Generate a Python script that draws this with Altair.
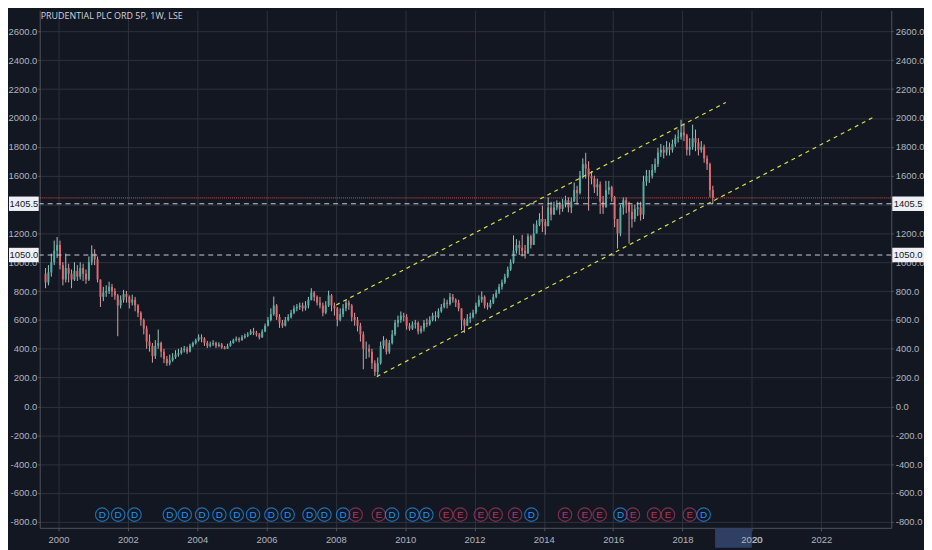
import altair as alt
import pandas as pd

# ---------------- data ----------------
TITLE = "PRUDENTIAL PLC ORD 5P, 1W, LSE"
START_YEAR = 1999
START_MONTH = 8
FIRST_OPEN = 920

closes = [
    860, 930, 1000, 1080, 1120,
    980, 880, 960, 920, 880, 940, 900, 960, 920, 880, 1000, 1060,
    1020, 880, 760, 790, 800, 830, 800, 770, 700, 740, 780, 760,
    720, 740, 700, 650, 600, 540, 450, 420, 350, 420, 440, 380,
    330, 300, 320, 340, 360, 370, 390, 400, 380, 420, 440, 460,
    480, 470, 440, 420, 430, 440, 420, 430, 410, 400, 420, 440,
    460, 470, 460, 480, 490, 500, 520, 510, 500, 480, 520, 560,
    600, 640, 700, 620, 580, 560, 600, 620, 650, 680, 690, 700,
    680, 700, 740, 790, 760, 720, 700, 650, 700, 770, 700, 680,
    600, 640, 680, 720, 700, 620, 600, 560, 500, 400, 400, 380,
    300, 240, 300, 420, 460, 380, 440, 500, 580, 600, 630, 620,
    560, 540, 570, 580, 520, 540, 580, 570, 600, 630, 620, 660,
    690, 720, 710, 760, 740, 720, 680, 600, 560, 610, 620, 650,
    700, 740, 760, 700, 690, 720, 760, 790, 830, 860, 900, 950,
    1000, 1080, 1120, 1100, 1080, 1060, 1180, 1120, 1200, 1260, 1300, 1280,
    1250, 1380, 1330, 1380, 1400, 1370, 1400, 1430, 1380, 1420, 1500, 1480,
    1600, 1680, 1650, 1600, 1580, 1520, 1540, 1420, 1380, 1500, 1520, 1450,
    1300, 1200, 1380, 1430, 1400, 1350, 1300, 1370, 1380, 1330, 1560, 1600,
    1600, 1640, 1680, 1760, 1780, 1760, 1800, 1780, 1820, 1860, 1870, 1900,
    1880, 1780, 1800, 1860, 1830, 1780, 1800, 1720, 1680, 1500, 1446,
]
highs = [
    960, 980, 1060, 1150, 1175,
    1150, 1000, 1060, 990, 950, 1000, 980, 1000, 990, 950, 1040, 1117,
    1090, 1040, 880, 830, 840, 865, 850, 820, 780, 770, 808, 800,
    770, 775, 760, 710, 660, 610, 560, 500, 440, 460, 533, 450,
    400, 350, 360, 370, 390, 400, 410, 420, 415, 435, 450, 470,
    500, 500, 480, 455, 450, 460, 450, 445, 440, 420, 435, 455,
    470, 485, 480, 495, 505, 515, 535, 545, 525, 510, 535, 575,
    620, 680, 762, 710, 640, 600, 620, 640, 670, 700, 710, 720,
    720, 730, 760, 820, 800, 770, 760, 720, 730, 803, 780, 720,
    690, 680, 710, 740, 735, 710, 650, 620, 580, 520, 450, 430,
    400, 320, 340, 450, 487, 470, 460, 530, 600, 630, 659, 650,
    640, 580, 590, 600, 590, 560, 600, 610, 625, 650, 660, 680,
    710, 750, 740, 786, 780, 750, 740, 680, 610, 640, 650, 671,
    720, 770, 797, 770, 720, 740, 780, 810, 850, 880, 920, 970,
    1020, 1186, 1160, 1150, 1190, 1120, 1198, 1190, 1267, 1290, 1340, 1392,
    1300, 1450, 1420, 1420, 1430, 1420, 1440, 1461, 1450, 1450, 1553, 1530,
    1633, 1720, 1759, 1700, 1633, 1600, 1580, 1560, 1460, 1564, 1564, 1530,
    1460, 1300, 1400, 1450, 1450, 1420, 1400, 1400, 1420, 1420, 1600, 1640,
    1640, 1680, 1720, 1793, 1820, 1810, 1840, 1830, 1850, 1885, 1920, 1988,
    1960, 1890, 1860, 1954, 1920, 1860, 1840, 1816, 1740, 1690, 1530,
]
lows = [
    820, 840, 900, 980, 1030,
    950, 840, 860, 860, 820, 870, 870, 880, 870, 850, 870, 980,
    980, 860, 690, 730, 760, 780, 760, 740, 487, 680, 720, 720,
    680, 700, 660, 620, 560, 500, 400, 380, 304, 330, 400, 340,
    300, 281, 285, 310, 330, 345, 360, 375, 365, 375, 410, 430,
    450, 445, 420, 405, 410, 420, 405, 410, 400, 396, 400, 415,
    435, 450, 445, 455, 470, 480, 495, 495, 485, 465, 475, 515,
    555, 590, 630, 600, 545, 545, 555, 590, 610, 640, 660, 670,
    659, 665, 680, 735, 730, 700, 680, 625, 640, 690, 660, 630,
    556, 590, 620, 660, 670, 590, 560, 520, 450, 258, 330, 340,
    260, 212, 215, 290, 400, 361, 365, 430, 490, 550, 580, 590,
    533, 525, 530, 540, 500, 505, 520, 550, 560, 590, 590, 610,
    650, 680, 680, 700, 720, 690, 660, 530, 510, 560, 580, 610,
    640, 690, 720, 680, 671, 680, 710, 750, 780, 810, 850, 890,
    940, 990, 1060, 1050, 1040, 1026, 1080, 1095, 1140, 1200, 1250, 1209,
    1190, 1250, 1290, 1340, 1360, 1330, 1350, 1380, 1346, 1340, 1420, 1400,
    1470, 1580, 1580, 1358, 1540, 1480, 1460, 1335, 1335, 1380, 1470, 1420,
    1243, 1095, 1180, 1330, 1340, 1129, 1240, 1280, 1320, 1289, 1300, 1530,
    1550, 1580, 1620, 1660, 1730, 1720, 1740, 1740, 1760, 1800, 1830, 1850,
    1840, 1740, 1740, 1780, 1770, 1740, 1760, 1690, 1640, 1450, 1404,
]

year_ticks = list(range(2000, 2023, 2))
price_ticks = list(range(-800, 2601, 200))

level_prices = [1405.5, 1050.0]
level_labels = ["1405.5", "1050.0"]
last_price = [1446]

upper_t = [2008.01, 2019.25]
upper_p = [704, 2108]
lower_t = [2009.18, 2023.49]
lower_p = [207, 2003]

event_t = [2001.26, 2001.72, 2002.19, 2003.21, 2003.64, 2004.14, 2004.64, 2005.14,
           2005.61, 2006.14, 2006.61, 2007.24, 2007.67, 2008.21, 2008.57, 2009.24,
           2009.62, 2010.21, 2010.61, 2011.18, 2011.59, 2012.18, 2012.61, 2013.17,
           2013.64, 2014.61, 2015.18, 2015.61, 2016.21, 2016.57, 2017.18, 2017.58,
           2018.21, 2018.61]
event_kind = ["D", "D", "D", "D", "D", "D", "D", "D",
              "D", "D", "D", "D", "D", "D", "E", "E",
              "D", "D", "D", "E", "E", "E", "E", "E",
              "D", "E", "E", "E", "D", "E", "E", "E",
              "E", "D"]

highlight_t = [2018.94, 2020.0]
highlight_label = ["2020"]

# ---------------- tables ----------------
rows = []
prev = FIRST_OPEN
for i, (c, h, l) in enumerate(zip(closes, highs, lows)):
    m = START_MONTH - 1 + i
    t = START_YEAR + m // 12 + ((m % 12) + 0.5) / 12
    o = prev
    rows.append(dict(t=t, open=o, close=c, high=max(h, o, c), low=min(l, o, c)))
    prev = c
candles = pd.DataFrame(rows)

levels = pd.DataFrame({"price": level_prices, "label": level_labels})
lastp = pd.DataFrame({"price": last_price})
channel = pd.DataFrame({
    "line": ["upper"] * len(upper_t) + ["lower"] * len(lower_t),
    "t": upper_t + lower_t,
    "p": upper_p + lower_p,
})
events = pd.DataFrame({"t": event_t, "kind": event_kind})
hl = pd.DataFrame({"t0": [highlight_t[0]], "t1": [highlight_t[1]]})
hl_lab = pd.DataFrame({"t": [2020.0], "label": highlight_label})
title_df = pd.DataFrame({"label": [TITLE]})

# ---------------- style ----------------
BG = "#131722"
GRID = "#2e323d"
AXIS = "#50545f"
LABEL = "#b2b5be"
FONT = "Liberation Sans"
UP = "#4fb0a4"
DOWN = "#e0686b"
UP_W = "#9cc8c2"
DOWN_W = "#d7a1a4"
BLUE = "#2196f3"
PINK = "#b8365e"
YELLOW = "#d4de45"

W, H = 859, 522
X0, X1 = 1999.6, 2023.88
Y0, Y1 = -841.3, 2746.4

xs = alt.Scale(domain=[X0, X1], nice=False, zero=False)
ys = alt.Scale(domain=[Y0, Y1], nice=False, zero=False)

label_expr = "(datum.value < 0 ? '-' : '') + format(abs(datum.value), '.1f')"

x_axis = alt.Axis(values=year_ticks, format="d", grid=True, gridColor=GRID,
                  domainColor=AXIS, tickColor=AXIS, tickSize=3, labelPadding=4,
                  labelColor=LABEL, labelFont=FONT, labelFontSize=9.5,
                  labelFlush=False, title=None)
y_left = alt.Axis(values=price_ticks, orient="left", grid=True, gridColor=GRID,
                  domainColor=AXIS, tickColor=AXIS, tickSize=2, labelPadding=1,
                  labelColor=LABEL, labelFont=FONT, labelFontSize=9.5,
                  labelExpr=label_expr, title=None)
y_right = alt.Axis(values=price_ticks, orient="right", grid=False,
                   domainColor=AXIS, tickColor=AXIS, tickSize=2, labelPadding=2,
                   labelColor=LABEL, labelFont=FONT, labelFontSize=9.5,
                   labelExpr=label_expr, title=None)


def X(field):
    return alt.X(field, scale=xs, axis=x_axis)


def Y(field):
    return alt.Y(field, scale=ys, axis=y_left)


is_up = "datum.close >= datum.open"

wicks = alt.Chart(candles).mark_rule(strokeWidth=1).encode(
    x=X("t:Q"), y=Y("low:Q"), y2="high:Q",
    color=alt.condition(is_up, alt.value(UP_W), alt.value(DOWN_W)),
)
bodies = alt.Chart(candles).mark_bar(size=2).encode(
    x=X("t:Q"), y=Y("open:Q"), y2="close:Q",
    color=alt.condition(is_up, alt.value(UP), alt.value(DOWN)),
)
level_rules = alt.Chart(levels).mark_rule(color="#c9ccd4", strokeDash=[5, 4], strokeWidth=1).encode(
    y=Y("price:Q")
)
last_rule = alt.Chart(lastp).mark_rule(color="#ef5350", strokeDash=[1, 1], strokeWidth=1, opacity=0.9).encode(
    y=Y("price:Q")
)
channel_lines = alt.Chart(channel).mark_line(color=YELLOW, strokeDash=[4, 4], strokeWidth=1.2).encode(
    x=X("t:Q"), y=Y("p:Q"), detail="line:N",
)
kind_color = alt.Color("kind:N", scale=alt.Scale(domain=["D", "E"], range=[BLUE, PINK]), legend=None)
ev_circles = alt.Chart(events).mark_point(shape="circle", size=185, filled=False, strokeWidth=1.1).encode(
    x=X("t:Q"), y=alt.value(508.7), color=kind_color,
)
ev_text = alt.Chart(events).mark_text(font=FONT, fontSize=10, baseline="middle").encode(
    x=X("t:Q"), y=alt.value(509.2), text="kind:N", color=kind_color,
)
hl_rect = alt.Chart(hl).mark_rect(color="#2f3f63").encode(
    x=X("t0:Q"), x2="t1:Q",
    y=alt.value(H + 0.5), y2=alt.value(H + 20),
)
hl_text = alt.Chart(hl_lab).mark_text(font=FONT, fontSize=9.5, baseline="top", color=LABEL).encode(
    x=X("t:Q"), y=alt.value(H + 7), text="label:N",
)
box_base = alt.Chart(levels).transform_calculate(lo="datum.price - 50", hi="datum.price + 50")
left_box = box_base.mark_rect(color="#eef0f5").encode(
    x=alt.value(-31), x2=alt.value(-1), y=Y("lo:Q"), y2="hi:Q",
)
right_box = box_base.mark_rect(color="#eef0f5").encode(
    x=alt.value(W + 1), x2=alt.value(W + 33), y=Y("lo:Q"), y2="hi:Q",
)
left_lab = alt.Chart(levels).mark_text(font=FONT, fontSize=9.5, color="#131722", baseline="middle").encode(
    x=alt.value(-16), y=Y("price:Q"), text="label:N"
)
right_lab = alt.Chart(levels).mark_text(font=FONT, fontSize=9.5, color="#131722", baseline="middle").encode(
    x=alt.value(W + 17), y=Y("price:Q"), text="label:N"
)
title_txt = alt.Chart(title_df).mark_text(font="Open Sans", fontSize=9, color="#d1d4dc",
                                          align="left", baseline="middle").encode(
    x=alt.value(1), y=alt.value(5.5), text="label:N"
)

inner = alt.layer(
    wicks, bodies, level_rules, last_rule, channel_lines,
    ev_circles, ev_text, hl_rect, hl_text,
    left_box, right_box, left_lab, right_lab, title_txt,
)
right_axis = alt.Chart(levels).mark_rule(opacity=0).encode(
    y=alt.Y("price:Q", scale=ys, axis=y_right)
)

chart = alt.layer(inner, right_axis).resolve_scale(y="independent").properties(
    width=W, height=H,
    padding={"left": 32, "right": 33, "top": 0, "bottom": 20},
    autosize=alt.AutoSizeParams(type="none"),
    background=BG,
).configure_view(stroke=None)

chart.save("out.html", embed_options={"renderer": "svg", "actions": False})
